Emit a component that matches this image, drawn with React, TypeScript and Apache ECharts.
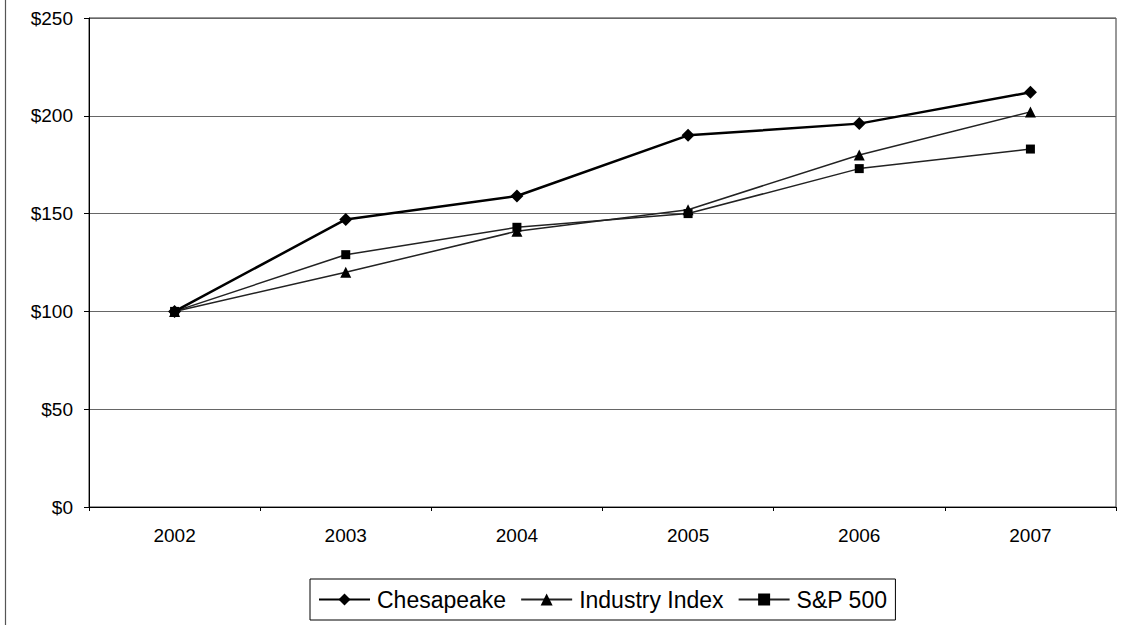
import React, { useEffect, useRef } from "react";
import * as echarts from "echarts";

const years = ["2002", "2003", "2004", "2005", "2006", "2007"];
const chesapeake = [100, 147, 159, 190, 196, 212];
const industryIndex = [100, 120, 141, 152, 180, 202];
const sp500 = [100, 129, 143, 150, 173, 183];
const yTicks = { min: 0, max: 250, interval: 50 };

const FONT = "Liberation Sans";

export default function App() {
  const ref = useRef<HTMLDivElement>(null);
  useEffect(() => {
    if (!ref.current) return;
    const chart = echarts.init(ref.current, null, { renderer: "svg" });
    chart.setOption({
      animation: false,
      backgroundColor: "#fff",
      textStyle: { fontFamily: FONT },
      grid: {
        left: 89,
        right: 7,
        top: 18,
        bottom: 118,
        show: true,
        borderColor: "#333",
        borderWidth: 1,
      },
      graphic: [
        {
          type: "line",
          shape: { x1: 5.5, y1: 0, x2: 5.5, y2: 625 },
          style: { stroke: "#555", lineWidth: 1.2 },
        },
      ],
      legend: {
        left: 310,
        top: 579,
        data: ["Chesapeake", "Industry Index", "S&P 500"],
        itemWidth: 51,
        itemHeight: 15,
        itemGap: 14,
        padding: [9, 8, 9, 8],
        borderColor: "#000",
        borderWidth: 1,
        textStyle: { fontFamily: FONT, fontSize: 23, color: "#000", padding: [0, 0, 0, 2] },
      },
      xAxis: {
        type: "category",
        data: years,
        boundaryGap: true,
        axisLine: { lineStyle: { color: "#000", width: 1 } },
        axisTick: { show: true, length: 4, lineStyle: { color: "#000" } },
        axisLabel: { fontFamily: FONT, fontSize: 19, color: "#000", margin: 19 },
        splitLine: { show: false },
      },
      yAxis: {
        type: "value",
        min: yTicks.min,
        max: yTicks.max,
        interval: yTicks.interval,
        axisLine: { show: true, lineStyle: { color: "#000", width: 1 } },
        axisTick: { show: true, length: 5, lineStyle: { color: "#000" } },
        axisLabel: {
          fontFamily: FONT,
          fontSize: 19,
          color: "#000",
          margin: 16,
          formatter: (v: number) => "$" + v,
        },
        splitLine: { show: true, lineStyle: { color: "#666", width: 1 } },
      },
      series: [
        {
          name: "Industry Index",
          type: "line",
          data: industryIndex,
          symbol: "triangle",
          symbolSize: 11,
          color: "#000",
          lineStyle: { color: "#222", width: 1.5 },
          itemStyle: { color: "#000" },
          z: 3,
        },
        {
          name: "S&P 500",
          type: "line",
          data: sp500,
          symbol: "rect",
          symbolSize: 9,
          color: "#000",
          lineStyle: { color: "#222", width: 1.5 },
          itemStyle: { color: "#000" },
          z: 3,
        },
        {
          name: "Chesapeake",
          type: "line",
          data: chesapeake,
          symbol: "diamond",
          symbolSize: 13,
          color: "#000",
          lineStyle: { color: "#000", width: 2.5 },
          itemStyle: { color: "#000" },
          z: 4,
        },
      ],
    });
    return () => chart.dispose();
  }, []);
  return (
    <div
      ref={ref}
      style={{ position: "fixed", left: 0, top: 0, width: 1123, height: 625 }}
    />
  );
}
